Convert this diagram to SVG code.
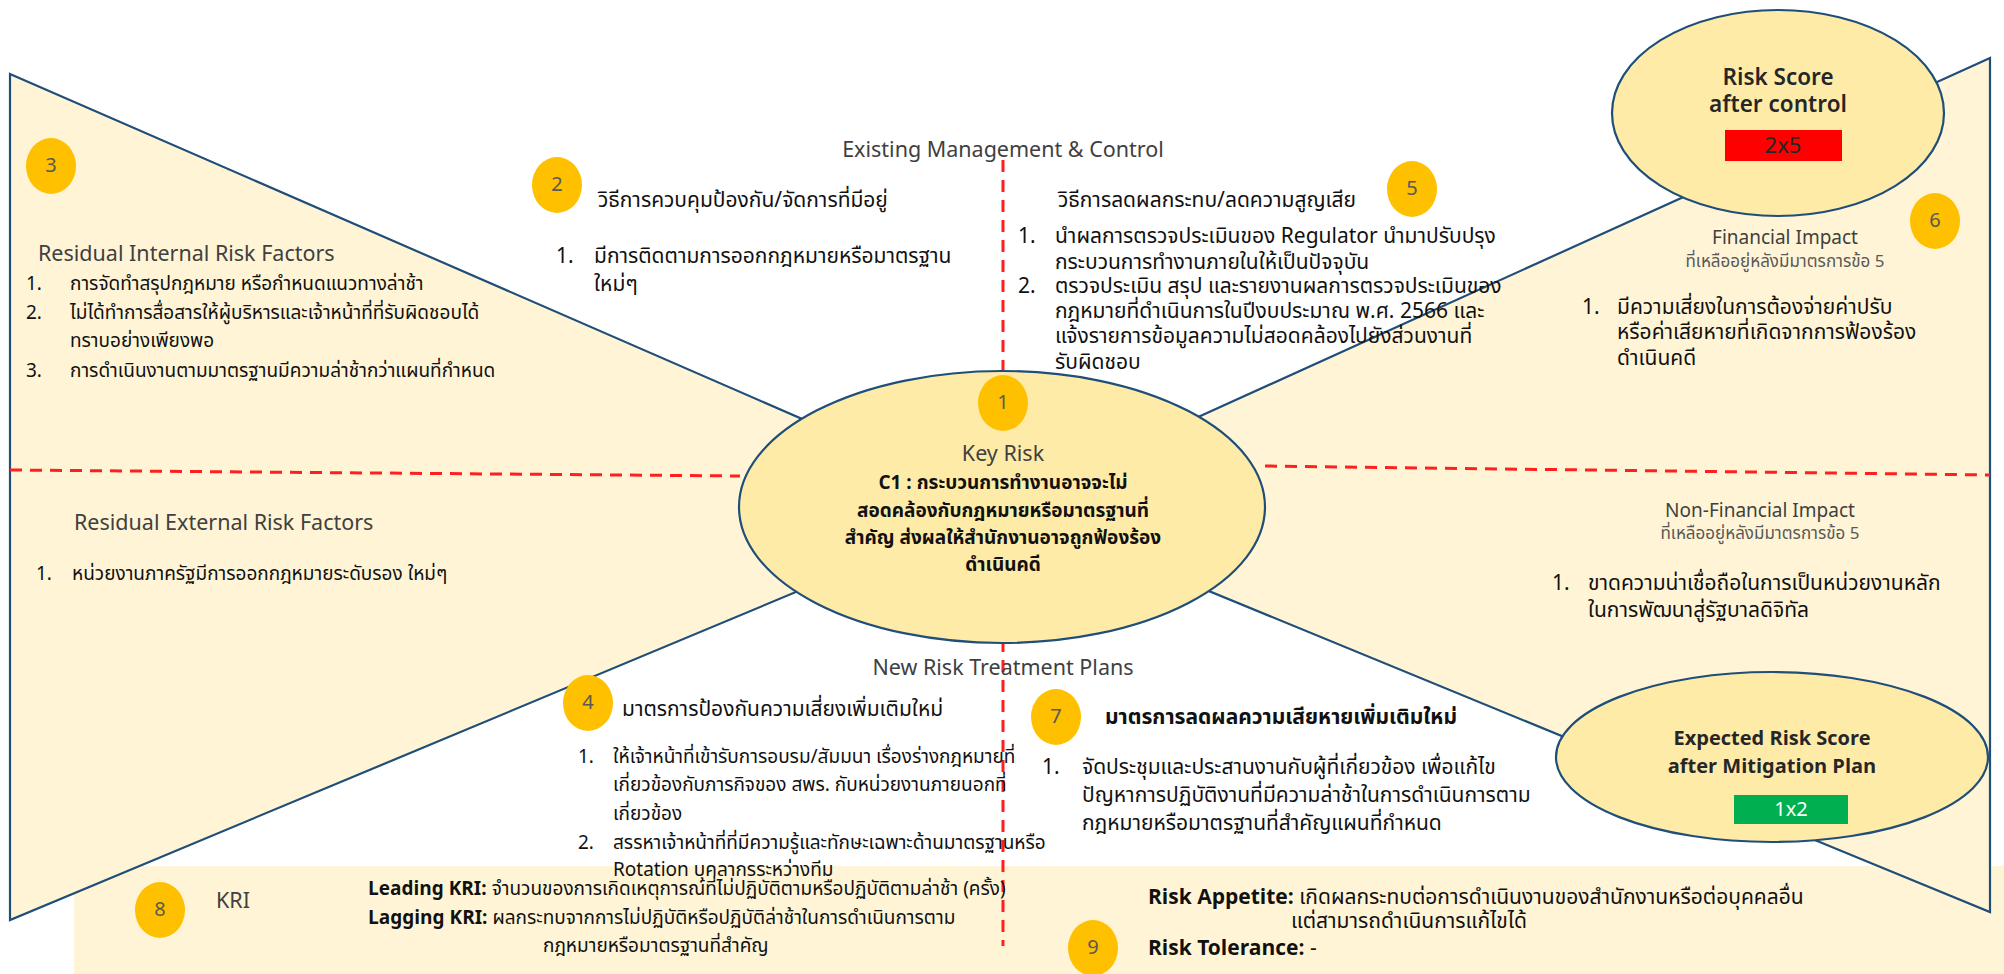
<svg xmlns="http://www.w3.org/2000/svg" width="2004" height="974" viewBox="0 0 2004 974">
  <style>
    text { font-family: "Noto Sans Thai", "Noto Sans Thai UI", "Noto Sans", "Liberation Sans", sans-serif; dominant-baseline: central; }
    .wing { fill: #FFF5D6; stroke: #1F4E79; stroke-width: 2.2; }
    .band { fill: #FFF5D6; }
    .divider { fill: none; stroke: #FF1F1F; stroke-width: 3; stroke-dasharray: 12 8; }
    .oval { fill: #FFEBA8; stroke: #1F4E79; stroke-width: 2.2; }
    .badge { fill: #FFC000; }
    .num { font-size: 20px; fill: #595959; text-anchor: middle; }
    .head { font-size: 21.5px; fill: #404040; }
    .impact { font-size: 19px; fill: #404040; text-anchor: middle; }
    .sub { font-size: 17px; fill: #595959; text-anchor: middle; }
    .body { font-size: 19px; fill: #111; }
    .big { font-size: 21px; fill: #111; }
    .score { font-size: 22.5px; font-weight: 600; fill: #262626; text-anchor: middle; }
    .score2 { font-size: 20px; font-weight: 700; fill: #262626; text-anchor: middle; }
    .bold { font-weight: 700; }
    .mid { text-anchor: middle; }
  </style>

  <rect width="2004" height="974" fill="#FFFFFF"/>

  <!-- KRI / appetite strip along the bottom -->
  <rect class="band" x="74" y="866" width="1930" height="108"/>

  <!-- bow-tie wings: causes on the left, impacts on the right -->
  <g id="wings">
    <polygon id="wing-causes" class="wing" points="10,74 1002,506 10,920"/>
    <polygon id="wing-impacts" class="wing" points="1990,58 1002,506 1990,912"/>
  </g>

  <!-- dashed quadrant dividers -->
  <g id="connectors">
    <line class="divider" x1="10" y1="470" x2="740" y2="476"/>
    <line class="divider" x1="1265" y1="466" x2="1990" y2="475"/>
    <line class="divider" x1="1003" y1="160" x2="1003" y2="380"/>
    <line class="divider" x1="1003" y1="640" x2="1003" y2="946"/>
  </g>

  <!-- centre: key risk -->
  <g id="key-risk">
    <ellipse class="oval" cx="1002" cy="507" rx="263" ry="136"/>
    <ellipse class="badge" cx="1003" cy="403" rx="25" ry="28"/>
    <text class="num" x="1003" y="403">1</text>
    <text class="head mid" x="1003" y="454">Key Risk</text>
    <text class="body bold mid" x="1003" y="483">C1 : กระบวนการทำงานอาจจะไม่</text>
    <text class="body bold mid" x="1003" y="511">สอดคล้องกับกฎหมายหรือมาตรฐานที่</text>
    <text class="body bold mid" x="1003" y="538">สำคัญ ส่งผลให้สำนักงานอาจถูกฟ้องร้อง</text>
    <text class="body bold mid" x="1003" y="565">ดำเนินคดี</text>
  </g>

  <!-- score after existing control -->
  <g id="score-after-control">
    <ellipse class="oval" cx="1778" cy="113" rx="166" ry="103"/>
    <text class="score" x="1778" y="78">Risk Score</text>
    <text class="score" x="1778" y="105">after control</text>
    <rect x="1725" y="130" width="117" height="31" fill="#FF0000"/>
    <text class="mid" x="1783" y="146" font-size="22" fill="#262626">2x5</text>
  </g>

  <!-- expected score after mitigation -->
  <g id="score-after-mitigation">
    <ellipse class="oval" cx="1772" cy="757" rx="216" ry="85"/>
    <text class="score2" x="1772" y="739">Expected Risk Score</text>
    <text class="score2" x="1772" y="767">after Mitigation Plan</text>
    <rect x="1734" y="795" width="114" height="29" fill="#00B050"/>
    <text class="mid" x="1791" y="810" font-size="20" fill="#FFFFFF">1x2</text>
  </g>

  <!-- 3: internal causes -->
  <g id="internal-factors">
    <ellipse class="badge" cx="51" cy="166" rx="25" ry="28"/>
    <text class="num" x="51" y="166">3</text>
    <text class="head" x="38" y="254">Residual Internal Risk Factors</text>
    <text class="body" x="26" y="284">1.</text>
    <text class="body" x="70" y="284">การจัดทำสรุปกฎหมาย หรือกำหนดแนวทางล่าช้า</text>
    <text class="body" x="26" y="313">2.</text>
    <text class="body" x="70" y="313">ไม่ได้ทำการสื่อสารให้ผู้บริหารและเจ้าหน้าที่ที่รับผิดชอบได้</text>
    <text class="body" x="70" y="341">ทราบอย่างเพียงพอ</text>
    <text class="body" x="26" y="371">3.</text>
    <text class="body" x="70" y="371">การดำเนินงานตามมาตรฐานมีความล่าช้ากว่าแผนที่กำหนด</text>
  </g>

  <!-- external causes -->
  <g id="external-factors">
    <text class="head" x="74" y="523">Residual External Risk Factors</text>
    <text class="body" x="36" y="574">1.</text>
    <text class="body" x="72" y="574">หน่วยงานภาครัฐมีการออกกฎหมายระดับรอง ใหม่ๆ</text>
  </g>

  <!-- 2: existing preventive controls -->
  <g id="existing-prevention">
    <text class="head mid" x="1003" y="150" font-size="22">Existing Management &amp; Control</text>
    <ellipse class="badge" cx="557" cy="185" rx="25" ry="28"/>
    <text class="num" x="557" y="185">2</text>
    <text class="big" x="598" y="200" font-size="22">วิธีการควบคุมป้องกัน/จัดการที่มีอยู่</text>
    <text class="big" x="556" y="256">1.</text>
    <text class="big" x="594" y="256">มีการติดตามการออกกฎหมายหรือมาตรฐาน</text>
    <text class="big" x="594" y="284">ใหม่ๆ</text>
  </g>

  <!-- 5: existing mitigation -->
  <g id="existing-mitigation">
    <ellipse class="badge" cx="1412" cy="189" rx="25" ry="28"/>
    <text class="num" x="1412" y="189">5</text>
    <text class="big" x="1058" y="200" font-size="22">วิธีการลดผลกระทบ/ลดความสูญเสีย</text>
    <text class="big" x="1018" y="236">1.</text>
    <text class="big" x="1055" y="236">นำผลการตรวจประเมินของ Regulator นำมาปรับปรุง</text>
    <text class="big" x="1055" y="262">กระบวนการทำงานภายในให้เป็นปัจจุบัน</text>
    <text class="big" x="1018" y="286">2.</text>
    <text class="big" x="1055" y="286">ตรวจประเมิน สรุป และรายงานผลการตรวจประเมินของ</text>
    <text class="big" x="1055" y="311">กฎหมายที่ดำเนินการในปีงบประมาณ พ.ศ. 2566 และ</text>
    <text class="big" x="1055" y="336">แจ้งรายการข้อมูลความไม่สอดคล้องไปยังส่วนงานที่</text>
    <text class="big" x="1055" y="362">รับผิดชอบ</text>
  </g>

  <!-- 6: financial impact -->
  <g id="financial-impact">
    <ellipse class="badge" cx="1935" cy="221" rx="25" ry="28"/>
    <text class="num" x="1935" y="221">6</text>
    <text class="impact" x="1785" y="238">Financial Impact</text>
    <text class="sub" x="1785" y="262">ที่เหลืออยู่หลังมีมาตรการข้อ 5</text>
    <text class="big" x="1582" y="307">1.</text>
    <text class="big" x="1617" y="307" font-size="22">มีความเสี่ยงในการต้องจ่ายค่าปรับ</text>
    <text class="big" x="1617" y="332" font-size="22">หรือค่าเสียหายที่เกิดจากการฟ้องร้อง</text>
    <text class="big" x="1617" y="358" font-size="22">ดำเนินคดี</text>
  </g>

  <!-- non-financial impact -->
  <g id="non-financial-impact">
    <text class="impact" x="1760" y="511">Non-Financial Impact</text>
    <text class="sub" x="1760" y="534">ที่เหลืออยู่หลังมีมาตรการข้อ 5</text>
    <text class="big" x="1552" y="583">1.</text>
    <text class="big" x="1588" y="583">ขาดความน่าเชื่อถือในการเป็นหน่วยงานหลัก</text>
    <text class="big" x="1588" y="610">ในการพัฒนาสู่รัฐบาลดิจิทัล</text>
  </g>

  <!-- 4: new preventive measures -->
  <g id="new-prevention">
    <text class="head mid" x="1003" y="668">New Risk Treatment Plans</text>
    <ellipse class="badge" cx="588" cy="703" rx="25" ry="28"/>
    <text class="num" x="588" y="703">4</text>
    <text class="big" x="622" y="709">มาตรการป้องกันความเสี่ยงเพิ่มเติมใหม่</text>
    <text class="body" x="578" y="757">1.</text>
    <text class="body" x="613" y="757">ให้เจ้าหน้าที่เข้ารับการอบรม/สัมมนา เรื่องร่างกฎหมายที่</text>
    <text class="body" x="613" y="785">เกี่ยวข้องกับภารกิจของ สพร. กับหน่วยงานภายนอกที่</text>
    <text class="body" x="613" y="814">เกี่ยวข้อง</text>
    <text class="body" x="578" y="843">2.</text>
    <text class="body" x="613" y="843">สรรหาเจ้าหน้าที่ที่มีความรู้และทักษะเฉพาะด้านมาตรฐานหรือ</text>
    <text class="body" x="613" y="870">Rotation บุคลากรระหว่างทีม</text>
  </g>

  <!-- 7: new mitigation measures -->
  <g id="new-mitigation">
    <ellipse class="badge" cx="1056" cy="717" rx="25" ry="28"/>
    <text class="num" x="1056" y="717">7</text>
    <text class="big bold" x="1105" y="717" font-size="20.5">มาตรการลดผลความเสียหายเพิ่มเติมใหม่</text>
    <text class="big" x="1042" y="767">1.</text>
    <text class="big" x="1082" y="767">จัดประชุมและประสานงานกับผู้ที่เกี่ยวข้อง เพื่อแก้ไข</text>
    <text class="big" x="1082" y="795">ปัญหาการปฏิบัติงานที่มีความล่าช้าในการดำเนินการตาม</text>
    <text class="big" x="1082" y="823">กฎหมายหรือมาตรฐานที่สำคัญแผนที่กำหนด</text>
  </g>

  <!-- 8: key risk indicators -->
  <g id="kri">
    <ellipse class="badge" cx="160" cy="910" rx="25" ry="28"/>
    <text class="num" x="160" y="910">8</text>
    <text class="head" x="216" y="901">KRI</text>
    <text class="body" x="368" y="889"><tspan class="bold">Leading KRI:</tspan> จำนวนของการเกิดเหตุการณ์ที่ไม่ปฏิบัติตามหรือปฏิบัติตามล่าช้า (ครั้ง)</text>
    <text class="body" x="368" y="918"><tspan class="bold">Lagging KRI:</tspan> ผลกระทบจากการไม่ปฏิบัติหรือปฏิบัติล่าช้าในการดำเนินการตาม</text>
    <text class="body" x="543" y="946">กฎหมายหรือมาตรฐานที่สำคัญ</text>
  </g>

  <!-- 9: appetite and tolerance -->
  <g id="appetite">
    <ellipse class="badge" cx="1093" cy="948" rx="25" ry="28"/>
    <text class="num" x="1093" y="948">9</text>
    <text class="big" x="1148" y="897"><tspan class="bold">Risk Appetite:</tspan> เกิดผลกระทบต่อการดำเนินงานของสำนักงานหรือต่อบุคคลอื่น</text>
    <text class="big" x="1291" y="921">แต่สามารถดำเนินการแก้ไขได้</text>
    <text class="big" x="1148" y="948"><tspan class="bold">Risk Tolerance:</tspan> -</text>
  </g>
</svg>
